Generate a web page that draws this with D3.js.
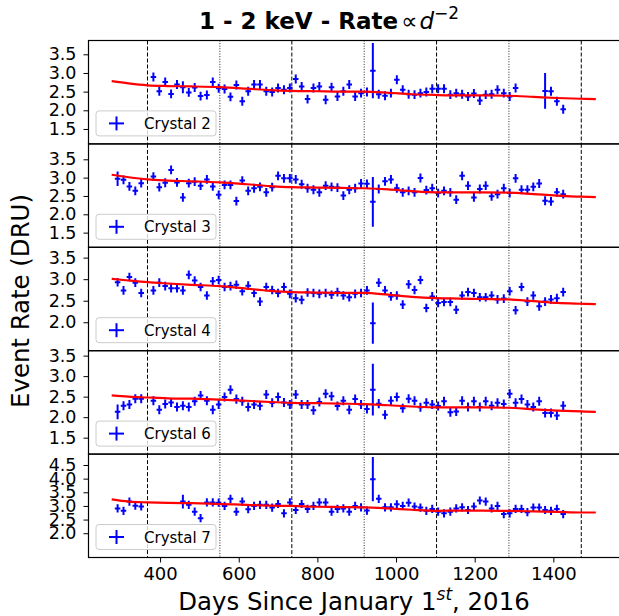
<!DOCTYPE html>
<html>
<head>
<meta charset="utf-8">
<script src="https://cdn.jsdelivr.net/npm/d3@7"></script>
<style>
    body { margin: 0; background: #fff; }
    svg { font-family: "DejaVu Sans", sans-serif; }
</style>
</head>
<body>
<svg id="chart" width="619" height="616"></svg>
<script>
// time bins, days since Jan 1 2016
const days = [292, 307, 322, 337, 352, 368, 383, 398, 413, 428,
              443, 458, 473, 488, 503, 519, 534, 549, 564, 579,
              594, 609, 624, 639, 654, 670, 685, 700, 715, 730,
              745, 760, 775, 790, 805, 821, 836, 851, 866, 881,
              896, 911, 926, 941, 956, 972, 987, 1002, 1017, 1032,
              1047, 1062, 1077, 1092, 1107, 1122, 1138, 1153, 1168, 1183,
              1198, 1213, 1228, 1243, 1258, 1274, 1289, 1304, 1319, 1334,
              1349, 1364, 1379, 1394, 1409, 1425];

const crystals = ['Crystal 2', 'Crystal 3', 'Crystal 4', 'Crystal 6', 'Crystal 7'];

// rates (DRU), null = no data in that bin
const rate2 = [null, null, null, null, null, null,
    2.89, 2.51, 2.76, 2.44, 2.69, 2.62, 2.48, 2.61, 2.38, 2.41,
    2.76, 2.59, 2.57, 2.36, 2.68, 2.24, 2.51, 2.69, 2.69, 2.51,
    2.49, 2.60, 2.55, 2.60, 2.84, 2.64, 2.30, 2.60, 2.64, 2.28,
    2.62, 2.37, 2.51, 2.69, 2.37, 2.46, 2.49, 3.06, 2.43, 2.39,
    2.46, 2.82, 2.55, 2.43, 2.42, 2.46, 2.49, 2.58, 2.58, 2.58,
    2.42, 2.46, 2.43, 2.37, 2.45, 2.26, 2.42, 2.43, 2.55, 2.46,
    2.37, 2.60, null, null, null, null, 2.52, 2.51, 2.24, 2.03];
const rate3 = [2.97, 2.94, 2.76, 2.64, 2.85, null,
    3.03, 2.74, 2.86, 3.21, 2.87, 2.46, 2.85, 2.89, 2.78, 2.95,
    2.76, 2.53, 2.80, 2.80, 2.36, 2.92, 2.64, 2.71, 2.75, 2.60,
    2.74, 3.05, 2.98, 2.98, 2.95, 2.82, 2.71, 2.67, 2.60, 2.78,
    2.75, 2.73, 2.51, 2.67, 2.71, 2.84, 2.83, 2.34, 2.69, 2.90,
    2.95, 2.71, 2.60, 2.64, 2.60, 2.99, 2.66, 2.71, 2.58, 2.64,
    2.60, 2.40, 3.05, 2.78, 2.46, 2.69, 2.78, 2.49, 2.55, 2.71,
    2.58, 2.98, 2.67, 2.67, 2.75, 2.84, 2.37, 2.35, 2.60, 2.55];
const rate4 = [2.93, 2.74, 3.05, 2.92, 2.68, null,
    2.74, 2.92, 2.84, 2.79, 2.79, 2.74, 3.10, 2.97, 2.82, 2.62,
    2.95, 2.98, 2.82, 2.84, 2.87, 2.72, 2.85, 2.68, 2.48, 2.82,
    2.75, 2.68, 2.82, 2.66, 2.56, 2.52, 2.69, 2.68, 2.66, 2.68,
    2.64, 2.70, 2.62, 2.58, 2.66, 2.68, 2.74, 1.98, 2.92, 2.74,
    2.60, 2.62, 2.41, 2.88, 2.75, 2.98, 2.33, 2.60, 2.45, 2.47,
    2.47, 2.29, 2.62, 2.70, 2.68, 2.58, 2.58, 2.62, 2.53, 2.55,
    2.72, 2.28, 2.82, 2.48, 2.62, 2.37, 2.48, 2.53, 2.56, 2.70];
const rate6 = [2.13, 2.28, 2.31, 2.45, 2.45, null,
    2.40, 2.18, 2.32, 2.36, 2.25, 2.28, 2.25, 2.39, 2.53, 2.40,
    2.18, 2.31, 2.49, 2.67, 2.44, 2.39, 2.25, 2.31, 2.28, 2.55,
    2.35, 2.49, 2.36, 2.31, 2.55, 2.31, 2.31, 2.17, 2.37, 2.57,
    2.51, 2.27, 2.40, 2.18, 2.44, 2.31, 2.20, 2.67, 2.33, 2.06,
    2.40, 2.49, 2.22, 2.45, 2.40, 2.24, 2.35, 2.31, 2.27, 2.39,
    2.12, 2.14, 2.40, 2.25, 2.39, 2.25, 2.39, 2.28, 2.35, 2.32,
    2.57, 2.35, 2.44, 2.31, 2.25, 2.39, 2.10, 2.10, 2.04, 2.28];
const rate7 = [2.91, 2.82, 3.16, 3.01, 2.98, null,
    null, null, null, null, null, 3.16, 3.04, 2.79, 2.55, 3.13,
    3.13, 3.12, 3.00, 3.26, 2.79, 3.16, 2.88, 3.00, 3.04, 3.04,
    2.94, 3.07, 2.73, 3.13, 2.85, 3.07, 2.89, 3.00, 3.13, 3.13,
    2.79, 2.89, 2.91, 2.79, 3.00, 2.95, 2.83, 3.98, 3.26, 2.95,
    2.95, 3.06, 3.00, 3.12, 2.98, 2.94, 2.82, 2.89, 2.79, 2.73,
    2.79, 2.91, 2.95, 2.85, 2.98, 3.20, 3.16, 2.91, 3.00, 2.70,
    2.73, 2.89, 2.89, 2.77, 2.94, 2.94, 2.85, 2.82, 2.89, 2.70];

// error bars: typical size per crystal, plus the wide ones (bin index -> err)
const errTypical = [0.12, 0.12, 0.10, 0.11, 0.15];
const errWide = [{11: 0.16, 43: 0.74, 72: 0.48},
                 {0: 0.20, 43: 0.68},
                 {43: 0.48},
                 {0: 0.18, 43: 0.63},
                 {11: 0.25, 43: 0.81}];
const binHalf = 7; // days

// fitted rate ~ d^-2 curves
const fitDays = [277, 320, 368, 420, 480, 552, 620, 680, 735, 800, 860,
                 918, 980, 1040, 1102, 1160, 1220, 1286, 1350, 1410, 1470, 1508];
const fit2 = [2.78, 2.72, 2.67, 2.65, 2.64, 2.62, 2.58, 2.54, 2.52, 2.51, 2.50,
              2.50, 2.47, 2.43, 2.41, 2.40, 2.40, 2.39, 2.36, 2.33, 2.31, 2.30];
const fit3 = [3.08, 3.01, 2.95, 2.92, 2.90, 2.87, 2.82, 2.77, 2.74, 2.73, 2.72,
              2.71, 2.68, 2.63, 2.60, 2.60, 2.60, 2.59, 2.55, 2.51, 2.48, 2.47];
const fit4 = [3.01, 2.97, 2.93, 2.90, 2.87, 2.84, 2.78, 2.73, 2.70, 2.69, 2.68,
              2.68, 2.64, 2.59, 2.56, 2.55, 2.54, 2.53, 2.49, 2.45, 2.43, 2.42];
const fit6 = [2.53, 2.50, 2.48, 2.46, 2.45, 2.43, 2.40, 2.37, 2.35, 2.34, 2.33,
              2.32, 2.29, 2.26, 2.24, 2.24, 2.24, 2.23, 2.19, 2.16, 2.14, 2.13];
const fit7 = [3.24, 3.16, 3.13, 3.11, 3.10, 3.07, 3.04, 3.01, 3.00, 2.97, 2.96,
              2.95, 2.91, 2.86, 2.82, 2.83, 2.83, 2.82, 2.80, 2.78, 2.76, 2.76];

const rates = [rate2, rate3, rate4, rate6, rate7];
const fits = [fit2, fit3, fit4, fit6, fit7];

// axes
const xDomain = [218, 1572];
const xTicks = [400, 600, 800, 1000, 1200, 1400];
const yDomains = [[1.10, 3.87], [1.10, 3.92], [1.34, 3.74], [1.10, 3.62], [1.11, 4.90]];
const yTicks = [[1.5, 2.0, 2.5, 3.0, 3.5],
                [1.5, 2.0, 2.5, 3.0, 3.5],
                [2.0, 2.5, 3.0, 3.5],
                [1.5, 2.0, 2.5, 3.0, 3.5],
                [2.0, 2.5, 3.0, 3.5, 4.0, 4.5]];

// yearly markers
const dashedDays = [368, 735, 1103, 1471];
const dottedDays = [552, 919, 1287];

//---------------------------------//

const plotLeft = 88.5, plotRight = 621;
const plotTop = 40.5, panelH = 103.4;

const svg = d3.select('#chart');
const x = d3.scaleLinear().domain(xDomain).range([plotLeft, plotRight]);

crystals.forEach(function(name, i) {
    const y0 = plotTop + i*panelH, y1 = y0 + panelH;
    const y = d3.scaleLinear().domain(yDomains[i]).range([y1, y0]);
    const g = svg.append('g');

    g.append('clipPath').attr('id', 'clip' + i)
      .append('rect')
        .attr('x', plotLeft).attr('y', y0)
        .attr('width', plotRight - plotLeft).attr('height', panelH);

    const plot = g.append('g').attr('clip-path', 'url(#clip' + i + ')');

    // perihelion / aphelion lines
    plot.selectAll('.dash').data(dashedDays).enter().append('line')
        .attr('x1', d => x(d)).attr('x2', d => x(d))
        .attr('y1', y0).attr('y2', y1)
        .attr('stroke', 'black').attr('stroke-width', 1)
        .attr('stroke-dasharray', '4,2');
    plot.selectAll('.dot').data(dottedDays).enter().append('line')
        .attr('x1', d => x(d)).attr('x2', d => x(d))
        .attr('y1', y0).attr('y2', y1)
        .attr('stroke', '#222').attr('stroke-width', 1)
        .attr('stroke-dasharray', '1,1.6');

    // data points
    const pts = days.map((d, k) => ({
        d: d,
        v: rates[i][k],
        e: errWide[i][k] !== undefined ? errWide[i][k] : errTypical[i]
    })).filter(p => p.v !== null);

    const bars = plot.selectAll('.pt').data(pts).enter().append('g');
    bars.append('line')
        .attr('x1', p => x(p.d)).attr('x2', p => x(p.d))
        .attr('y1', p => y(p.v - p.e)).attr('y2', p => y(p.v + p.e))
        .attr('stroke', 'blue').attr('stroke-width', 2);
    bars.append('line')
        .attr('x1', p => x(p.d - binHalf)).attr('x2', p => x(p.d + binHalf))
        .attr('y1', p => y(p.v)).attr('y2', p => y(p.v))
        .attr('stroke', 'blue').attr('stroke-width', 2);

    // fit
    const line = d3.line()
        .x((d, k) => x(fitDays[k]))
        .y(d => y(d))
        .curve(d3.curveMonotoneX);
    plot.append('path')
        .attr('d', line(fits[i]))
        .attr('fill', 'none')
        .attr('stroke', 'red').attr('stroke-width', 2.2);

    // y axis
    const yAxis = d3.axisLeft(y)
        .tickValues(yTicks[i])
        .tickFormat(d3.format('.1f'))
        .tickSize(5).tickPadding(7);
    const ya = g.append('g').attr('transform', 'translate(' + plotLeft + ',0)').call(yAxis);
    ya.select('.domain').remove();
    ya.selectAll('text').attr('font-size', 17.5).attr('fill', 'black')
        .attr('font-family', '"DejaVu Sans", sans-serif');

    // legend
    const lg = g.append('g').attr('transform', 'translate(96,' + (y1 - 33) + ')');
    lg.append('rect')
        .attr('width', 120).attr('height', 25).attr('rx', 3)
        .attr('fill', 'white').attr('fill-opacity', 0.8)
        .attr('stroke', '#cccccc').attr('stroke-width', 1);
    lg.append('line').attr('x1', 13).attr('x2', 28).attr('y1', 12.5).attr('y2', 12.5)
        .attr('stroke', 'blue').attr('stroke-width', 2);
    lg.append('line').attr('x1', 20.5).attr('x2', 20.5).attr('y1', 5.5).attr('y2', 19.5)
        .attr('stroke', 'blue').attr('stroke-width', 2);
    lg.append('text').attr('x', 48).attr('y', 18)
        .attr('font-size', 15).text(name);

    // frame
    g.append('rect')
        .attr('x', plotLeft).attr('y', y0)
        .attr('width', plotRight - plotLeft).attr('height', panelH)
        .attr('fill', 'none').attr('stroke', 'black').attr('stroke-width', 1.2);

    if (i === crystals.length - 1) {
        const xAxis = d3.axisBottom(x).tickValues(xTicks)
            .tickFormat(d3.format('d')).tickSize(5).tickPadding(5);
        const xa = g.append('g').attr('transform', 'translate(0,' + y1 + ')').call(xAxis);
        xa.select('.domain').remove();
        xa.selectAll('text').attr('font-size', 18).attr('fill', 'black')
            .attr('font-family', '"DejaVu Sans", sans-serif');
    }
});

// title
const title = svg.append('text')
    .attr('x', 199).attr('y', 29)
    .attr('font-size', 23);
title.append('tspan').attr('font-weight', 'bold').text('1 - 2 keV - Rate');
title.append('tspan').attr('dx', 3).text('\u221D');
title.append('tspan').attr('dx', 2).attr('font-style', 'italic').text('d');
title.append('tspan').attr('font-size', 17).attr('dy', -10).text('\u22122');

// axis labels
svg.append('text')
    .attr('transform', 'translate(29,301) rotate(-90)')
    .attr('text-anchor', 'middle')
    .attr('font-size', 24.4)
    .text('Event Rate (DRU)');

const xl = svg.append('text')
    .attr('x', 354).attr('y', 610)
    .attr('text-anchor', 'middle')
    .attr('font-size', 24.4);
xl.append('tspan').text('Days Since January 1');
xl.append('tspan').attr('font-size', 17).attr('font-style', 'italic').attr('dy', -10).text('st');
xl.append('tspan').attr('dy', 10).text(', 2016');
</script>
</body>
</html>
